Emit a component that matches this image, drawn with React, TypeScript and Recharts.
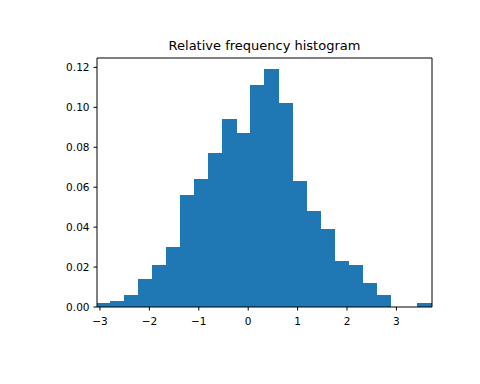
import React from 'react';
import { ComposedChart, Bar, XAxis, YAxis, ReferenceLine } from 'recharts';

const binStarts = [-3.06, -2.7775, -2.495, -2.2125, -1.93, -1.6475, -1.365, -1.0825, -0.8, -0.5175, -0.235, 0.0475, 0.33, 0.6125, 0.895, 1.1775, 1.46, 1.7425, 2.025, 2.3075, 2.59, 2.8725, 3.155, 3.4375];
const binWidth = 0.2825;
const frequencies = [0.002, 0.003, 0.006, 0.014, 0.021, 0.030, 0.056, 0.064, 0.077, 0.094, 0.087, 0.111, 0.119, 0.102, 0.063, 0.048, 0.039, 0.023, 0.021, 0.012, 0.006, 0, 0, 0.002];
const xTicks = [-3, -2, -1, 0, 1, 2, 3];
const yTicks = [0, 0.02, 0.04, 0.06, 0.08, 0.1, 0.12];
const xDomain: [number, number] = [-3.06, 3.72];
const yDomain: [number, number] = [0, 0.1247];

const data = binStarts.map((s, i) => ({ center: s + binWidth / 2, freq: frequencies[i] }));

const W = 480;
const H = 384;
const plotLeft = 97;
const plotRight = 432;
const plotTop = 58;
const plotBottom = 307;
const barPx = ((plotRight - plotLeft) * binWidth) / (xDomain[1] - xDomain[0]);

const tickStyle = { fontFamily: 'DejaVu Sans', fontSize: 10.5, fill: '#000' };
const minus = (s: string) => s.replace('-', '\u2212');

const BinShape = (props: any) => {
  const { x, y, width, height, fill } = props;
  if (!height || height <= 0) return null;
  const cx = x + width / 2;
  const left = Math.max(plotLeft, cx - barPx / 2 - 0.5);
  const right = Math.min(plotRight, cx + barPx / 2 + 0.5);
  return <rect x={left} y={y} width={right - left} height={height} fill={fill} shapeRendering="crispEdges" />;
};

export default function App() {
  return (
    <div style={{ position: 'absolute', left: 0, top: 0, width: W, height: H, background: '#fff' }}>
      <div
        style={{
          position: 'absolute',
          left: plotLeft,
          width: plotRight - plotLeft,
          top: 38,
          textAlign: 'center',
          fontFamily: 'DejaVu Sans',
          fontSize: 13,
          color: '#000',
          lineHeight: '15px',
        }}
      >
        Relative frequency histogram
      </div>
      <ComposedChart
        width={W}
        height={H}
        data={data}
        margin={{ top: plotTop, right: W - plotRight, bottom: H - plotBottom - 30, left: plotLeft - 60 }}
      >
        <XAxis
          dataKey="center"
          type="number"
          domain={xDomain}
          ticks={xTicks}
          allowDataOverflow
          height={30}
          tickSize={3.5}
          tickMargin={7}
          stroke="#000"
          tick={tickStyle}
          tickFormatter={(v: number) => minus(String(v))}
          tickLine={{ stroke: '#000' }}
          axisLine={{ stroke: '#000' }}
          interval={0}
        />
        <YAxis
          type="number"
          domain={yDomain}
          ticks={yTicks}
          allowDataOverflow
          width={60}
          tickSize={3.5}
          tickMargin={4}
          stroke="#000"
          tick={tickStyle}
          tickFormatter={(v: number) => v.toFixed(2)}
          interval={0}
        />
        <Bar dataKey="freq" fill="#1f77b4" shape={BinShape} isAnimationActive={false} />
        <ReferenceLine y={yDomain[1]} stroke="#000" ifOverflow="extendDomain" />
        <ReferenceLine x={xDomain[1]} stroke="#000" ifOverflow="extendDomain" />
      </ComposedChart>
    </div>
  );
}
